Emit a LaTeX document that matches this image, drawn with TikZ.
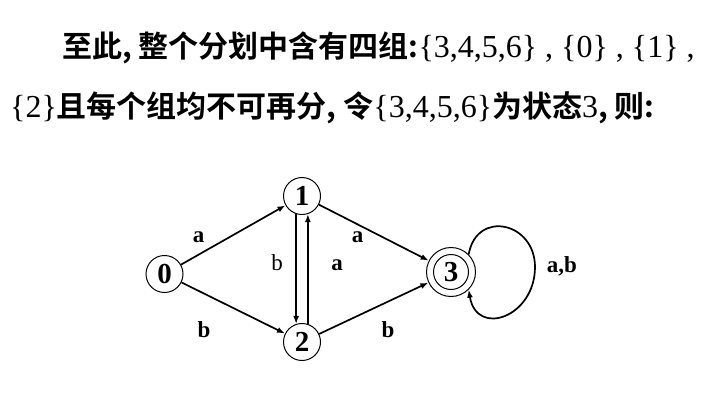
\documentclass[tikz,border=0pt]{standalone}
\usepackage{fontspec}
\setmainfont{Liberation Serif}
\newfontfamily\cjk{Noto Sans CJK SC Bold}
\usetikzlibrary{arrows.meta}

\begin{document}
\begin{tikzpicture}[x=1pt,y=-1pt,>={Latex[length=8pt,width=6pt]},
  st/.style={draw,circle,line width=1pt,minimum size=37pt,inner sep=0pt,
    font=\fontsize{29}{29}\selectfont\bfseries},
  lbl/.style={anchor=base,inner sep=0pt,font=\fontsize{23}{23}\selectfont\bfseries},
  edge/.style={->,line width=1.7pt}]
\useasboundingbox (0,0) rectangle (712,408);
% title text
\node[anchor=base west,inner sep=0pt,font=\fontsize{32}{36}\selectfont] (t1) at (62,57)
  {{\cjk\fontsize{30}{36}\selectfont 至此, 整个分划中含有四组:}\{3,4,5,6\} , \{0\} , \{1\} ,};
\node[anchor=base west,inner sep=0pt,font=\fontsize{32}{36}\selectfont] (t2) at (10,117)
  {\{2\}{\cjk\fontsize{30}{36}\selectfont 且每个组均不可再分, 令}\{3,4,5,6\}{\cjk\fontsize{30}{36}\selectfont 为状态}3{\cjk\fontsize{30}{36}\selectfont , 则:}};
% states
\node[st] (n0) at (164.5,274) {0};
\node[st] (n1) at (302,196) {1};
\node[st] (n2) at (302,342) {2};
\node[st,minimum size=49pt] (n3) at (451,272) {3};
\draw[line width=1pt] (n3.center) circle (17.5);
% transitions
\draw[edge] (n0) -- (n1);
\draw[edge] (n0) -- (n2);
\draw[edge] (n1.-108) -- (n2.108);
\draw[edge] (n2.72) -- (n1.-72);
\draw[edge] (n1) -- (n3);
\draw[edge] (n2) -- (n3);
\coordinate (lp) at (535,267);
\draw[edge] (n3.45) .. controls +(8,-45) and +(0,-45) .. (lp)
  .. controls +(0,50) and +(8,48) .. (n3.-45);
% labels
\node[lbl] (l01) at (198.5,242) {a};
\node[lbl] (l02) at (204,337) {b};
\node[lbl,font=\fontsize{23}{23}\selectfont] (l12) at (277,270) {b};
\node[lbl] (l21) at (337,270) {a};
\node[lbl] (l13) at (357.5,242) {a};
\node[lbl] (l23) at (388,337) {b};
\node[lbl] (l33) at (562,272) {a,b};
\end{tikzpicture}
\end{document}
